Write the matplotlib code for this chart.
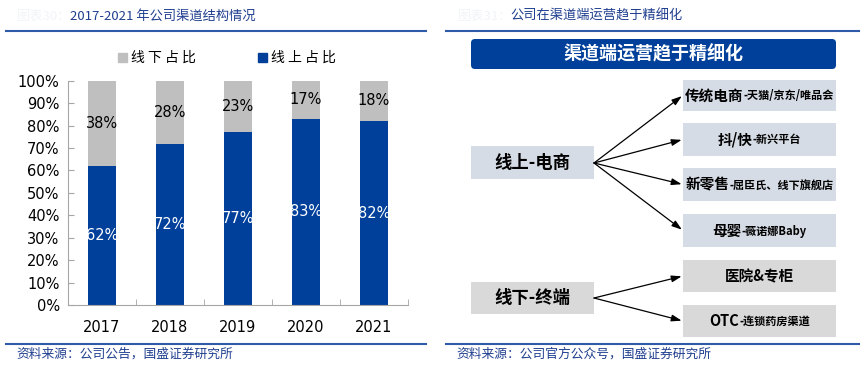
import matplotlib
matplotlib.use("Agg")
import matplotlib.pyplot as plt
from matplotlib.patches import FancyBboxPatch, Rectangle
import numpy as np

plt.rcParams['font.family'] = ['DejaVu Sans', 'Noto Sans CJK SC']

# ---- data ----
years = ['2017', '2018', '2019', '2020', '2021']
online_share = [62, 72, 77, 83, 82]     # 线上占比
offline_share = [38, 28, 23, 17, 18]    # 线下占比
yticks = [0, 10, 20, 30, 40, 50, 60, 70, 80, 90, 100]

left_title = '2017-2021 年公司渠道结构情况'
right_title = '公司在渠道端运营趋于精细化'
left_source = '资料来源：公司公告，国盛证券研究所'
right_source = '资料来源：公司官方公众号，国盛证券研究所'
banner = '渠道端运营趋于精细化'
online_root = '线上-电商'
offline_root = '线下-终端'
online_items = [('传统电商', '-天猫/京东/唯品会'), ('抖/快', '-新兴平台'),
                ('新零售', '-屈臣氏、线下旗舰店'), ('母婴', '-薇诺娜Baby')]
offline_items = [('医院&专柜', ''), ('OTC', '-连锁药房渠道')]

BLUE = '#00409A'
GREY = '#BFBFBF'
TBLUE = '#1F3F8F'
CJK = ['Noto Sans CJK SC', 'DejaVu Sans']

W, H = 866, 370
fig = plt.figure(figsize=(W / 100, H / 100), dpi=100)

# ---- overlay axes in pixel coordinates ----
ov = fig.add_axes([0, 0, 1, 1])
ov.set_xlim(0, W)
ov.set_ylim(H, 0)
ov.axis('off')

# headers
ov.text(17, 16, '图表30：', color='#F2F4F8', fontsize=9.5, family=CJK, va='center')
ov.text(70, 16, left_title, color=TBLUE, fontsize=9.5, style='italic', family=CJK, va='center')
ov.text(458, 16, '图表31：', color='#F2F4F8', fontsize=9.5, family=CJK, va='center')
ov.text(510, 16, right_title, color=TBLUE, fontsize=9.5, style='italic', family=CJK, va='center')
for x0, x1 in [(6, 426), (446, 859)]:
    ov.plot([x0, x1], [31, 31], color='#2F5AA8', lw=1.5)
    ov.plot([x0, x1], [344, 344], color='#2F5AA8', lw=1.5)
ov.text(16, 354, left_source, color=TBLUE, fontsize=9.2, style='italic', family=CJK, va='center')
ov.text(456, 354, right_source, color=TBLUE, fontsize=9.2, style='italic', family=CJK, va='center')

# legend
ov.add_patch(Rectangle((118, 53), 9, 9, color=GREY))
ov.text(131, 58, '线 下 占 比', fontsize=10, family=CJK, va='center')
ov.add_patch(Rectangle((258, 53), 9, 9, color=BLUE))
ov.text(271, 58, '线 上 占 比', fontsize=10, family=CJK, va='center')

# banner
ov.add_patch(FancyBboxPatch((473, 41), 361, 26, boxstyle='round,pad=2,rounding_size=4',
                            facecolor=BLUE, edgecolor='none'))
ov.text(653, 53.5, banner, color='white', fontsize=13, fontweight='bold', family=CJK,
        ha='center', va='center')

# diagram boxes
LBLUE = '#D6DCE5'
LGREY = '#D9D9D9'
def box(x0, y0, x1, y1, color):
    ov.add_patch(Rectangle((x0, y0), x1 - x0, y1 - y0, facecolor=color, edgecolor='none'))

box(471, 146, 594, 179, LBLUE)
ov.text(532, 162.5, online_root, fontsize=12.5, fontweight='bold', family=CJK, ha='center', va='center')
box(471, 282, 594, 314, LGREY)
ov.text(532, 298, offline_root, fontsize=12.5, fontweight='bold', family=CJK, ha='center', va='center')

right_boxes_online = [(80, 110.5), (123, 156), (168, 201), (214, 247)]
right_boxes_offline = [(260, 292), (305, 337)]

def item_text(xc, yc, main, sub):
    t1 = ov.text(0, 0, main, fontsize=10.5, fontweight='bold', family=CJK, va='center')
    t2 = ov.text(0, 0, sub, fontsize=8, fontweight='bold', family=CJK, va='center')
    fig.canvas.draw()
    r = fig.canvas.get_renderer()
    w1 = t1.get_window_extent(r).width
    w2 = t2.get_window_extent(r).width if sub else 0
    x0 = xc - (w1 + w2) / 2
    t1.set_position((x0, yc))
    t2.set_position((x0 + w1, yc + 0.5))

for (y0, y1), (m, s) in zip(right_boxes_online, online_items):
    box(683, y0, 836, y1, LBLUE)
    item_text(759.5, (y0 + y1) / 2, m, s)
    ov.annotate('', xy=(683, (y0 + y1) / 2), xytext=(594, 163),
                arrowprops=dict(arrowstyle='-|>,head_length=0.6,head_width=0.2', color='black', lw=0.9,
                                shrinkA=0, shrinkB=1))
for (y0, y1), (m, s) in zip(right_boxes_offline, offline_items):
    box(683, y0, 836, y1, LGREY)
    item_text(759.5, (y0 + y1) / 2, m, s)
    ov.annotate('', xy=(683, (y0 + y1) / 2), xytext=(594, 298),
                arrowprops=dict(arrowstyle='-|>,head_length=0.6,head_width=0.2', color='black', lw=0.9,
                                shrinkA=0, shrinkB=1))

# ---- bar chart ----
ax = fig.add_axes([68 / W, 1 - 305 / H, (408 - 68) / W, (305 - 80.7) / H])
x = np.arange(len(years))
ax.bar(x, online_share, width=0.42, color=BLUE)
ax.bar(x, offline_share, width=0.42, bottom=online_share, color=GREY)
for xi, on, off in zip(x, online_share, offline_share):
    ax.text(xi, on / 2, f'{on}%', color='white', fontsize=10.5, ha='center', va='center')
    ax.text(xi, on + off / 2, f'{off}%', color='black', fontsize=10.5, ha='center', va='center')
ax.set_xlim(-0.5, len(years) - 0.5)
ax.set_ylim(0, 100)
ax.set_yticks(yticks)
ax.set_yticklabels([f'{v}%' for v in yticks], fontsize=10.5)
ax.set_xticks(x)
ax.set_xticklabels(years, fontsize=10.5)
ax.tick_params(axis='x', length=0, pad=11)
ax.set_xticks(np.arange(-0.5, len(years)), minor=True)
ax.tick_params(axis='x', which='minor', direction='in', length=4, color='#A6A6A6')
ax.tick_params(axis='y', direction='in', length=4, color='#A6A6A6', pad=6)
for s in ['top', 'right']:
    ax.spines[s].set_visible(False)
for s in ['left', 'bottom']:
    ax.spines[s].set_color('#A6A6A6')
ax.set_facecolor('none')

fig.savefig('out.png', dpi=100)
